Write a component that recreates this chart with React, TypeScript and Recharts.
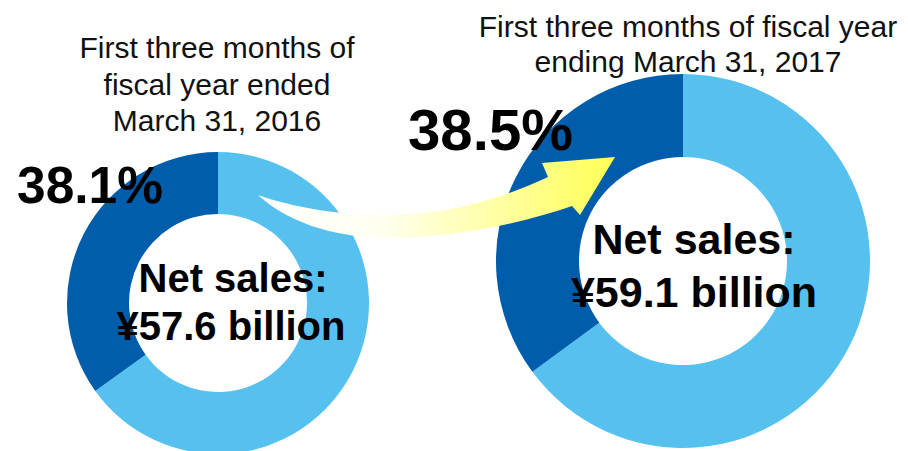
import React from 'react';
import { PieChart, Pie, Cell } from 'recharts';

const segments = ['Share', 'Other'];
const prevValues = [34.9, 65.1];
const currValues = [35.1, 64.9];
const shareLabels = ['38.1%', '38.5%'];
const salesLabels = ['¥57.6 billion', '¥59.1 billion'];
const titleLeft = ['First three months of', 'fiscal year ended', 'March 31, 2016'];
const titleRight = ['First three months of fiscal year', 'ending March 31, 2017'];

const DARK = '#005DAB';
const LIGHT = '#56C1EF';
const FONT = '"Liberation Sans", Arial, sans-serif';

// order: light first clockwise from top, then dark
const prevData = [
  { name: segments[1], value: prevValues[1] },
  { name: segments[0], value: prevValues[0] },
];
const currData = [
  { name: segments[1], value: currValues[1] },
  { name: segments[0], value: currValues[0] },
];
const colors = [LIGHT, DARK];

const Overlay = () => (
  <svg width={908} height={451} style={{ position: 'absolute', left: 0, top: 0, pointerEvents: 'none', fontFamily: FONT }}>
    <defs>
      <linearGradient id="arrowGrad" gradientUnits="userSpaceOnUse" x1={258} y1={0} x2={615} y2={0}>
        <stop offset="0" stopColor="#FFFFFF" />
        <stop offset="0.35" stopColor="#FFFFF0" />
        <stop offset="0.7" stopColor="#FFFF9C" />
        <stop offset="1" stopColor="#FFFF55" />
      </linearGradient>
    </defs>
    <path
      d="M258,195 C300,210 360,218 410,214 C460,211 510,195 548,177 L542,163 L615,157 L580,215 L572,206 C520,224 450,238 390,238 C330,238 285,220 258,195 Z"
      fill="url(#arrowGrad)"
    />
    {titleLeft.map((t, i) => (
      <text key={'tl' + i} x={217} y={58 + i * 36.5} textAnchor="middle" fontSize={30} fill="#111">{t}</text>
    ))}
    {titleRight.map((t, i) => (
      <text key={'tr' + i} x={688} y={37 + i * 35} textAnchor="middle" fontSize={30} fill="#111">{t}</text>
    ))}
    <text x={17} y={203} fontSize={52} fontWeight="bold" fill="#000" textLength={146} lengthAdjust="spacingAndGlyphs">{shareLabels[0]}</text>
    <text x={408} y={150} fontSize={58} fontWeight="bold" fill="#000" textLength={165} lengthAdjust="spacingAndGlyphs">{shareLabels[1]}</text>
    <text x={233} y={292} textAnchor="middle" fontSize={40} fontWeight="bold" fill="#000">Net sales:</text>
    <text x={231} y={340} textAnchor="middle" fontSize={40} fontWeight="bold" fill="#000">{salesLabels[0]}</text>
    <text x={694} y={254} textAnchor="middle" fontSize={43} fontWeight="bold" fill="#000">Net sales:</text>
    <text x={694} y={307} textAnchor="middle" fontSize={43} fontWeight="bold" fill="#000">{salesLabels[1]}</text>
  </svg>
);

export default function App() {
  return (
    <div style={{ position: 'absolute', left: 0, top: 0, width: 908, height: 451, background: '#fff' }}>
      <PieChart width={908} height={451} margin={{ top: 0, right: 0, bottom: 0, left: 0 }}>
        <Pie
          data={prevData}
          dataKey="value"
          cx={218}
          cy={303}
          innerRadius={89}
          outerRadius={151}
          startAngle={90}
          endAngle={-270}
          stroke="none"
          isAnimationActive={false}
        >
          {prevData.map((d, i) => (
            <Cell key={d.name} fill={colors[i]} />
          ))}
        </Pie>
        <Pie
          data={currData}
          dataKey="value"
          cx={683}
          cy={261}
          innerRadius={104}
          outerRadius={187}
          startAngle={90}
          endAngle={-270}
          stroke="none"
          isAnimationActive={false}
        >
          {currData.map((d, i) => (
            <Cell key={d.name} fill={colors[i]} />
          ))}
        </Pie>
      </PieChart>
      <Overlay />
    </div>
  );
}
